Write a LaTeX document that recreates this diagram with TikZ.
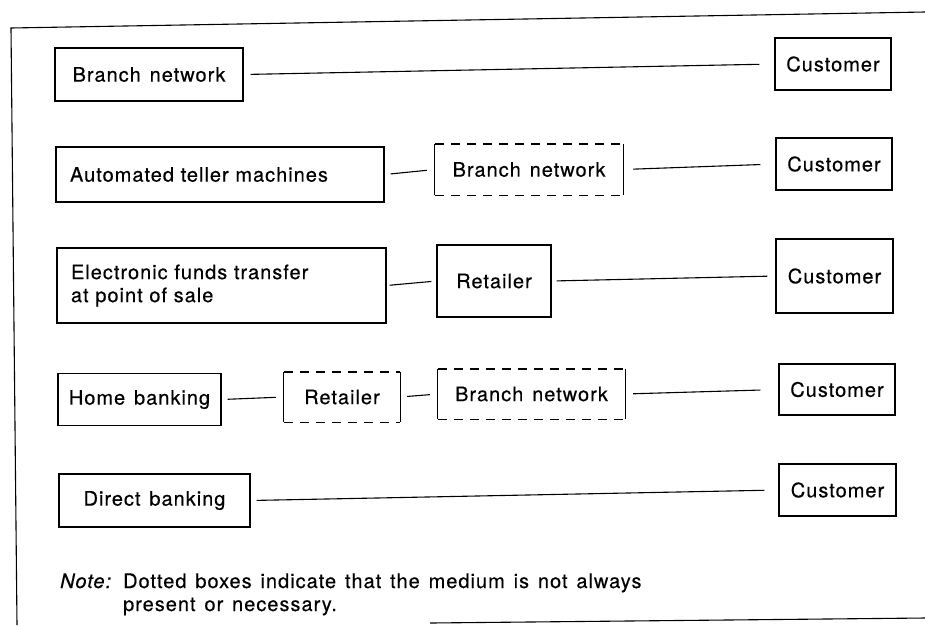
\documentclass[tikz,border=0pt]{standalone}
\usepackage{fontspec}
\setmainfont{TeX Gyre Heros}[LetterSpace=5,FakeBold=0.4,WordSpace=1.35]
\begin{document}
\begin{tikzpicture}[x=1pt,y=-1pt,
  txt/.style={font=\fontsize{20}{23}\selectfont},
  box/.style={txt, draw, line width=1.3pt, inner sep=0pt},
  dbox/.style={txt, inner sep=0pt},
  lbox/.style={box, inner xsep=14pt, align=left},
  dline/.style={line width=1.4pt, dash pattern=on 9pt off 7pt},
  sline/.style={line width=1.3pt},
  link/.style={line width=1.1pt},
  frame/.style={line width=1.1pt}]
\useasboundingbox (0,0) rectangle (925,625);
% frame
\coordinate (ftl) at (11,28);
\coordinate (ftr) at (925,12);
\coordinate (fbl) at (17,625);
\coordinate (fbs) at (430,623);
\coordinate (fbe) at (925,618);
\draw[frame] (fbl) -- (ftl) -- (ftr);
\draw[frame] (fbs) -- (fbe);
% row 1
\node[box, minimum width=188pt, minimum height=53pt] (bn1) at (149,74.5) {Branch network};
\node[box, minimum width=116pt, minimum height=52pt] (cu1) at (833,64) {Customer};
% row 2
\node[lbox, minimum width=328pt, minimum height=55pt, text width=300pt] (atm) at (220,174.5) {Automated teller machines};
\node[dbox, minimum width=188pt, minimum height=51pt] (bn2) at (529,169.5) {Branch network};
\node[box, minimum width=116pt, minimum height=52pt] (cu2) at (834,164) {Customer};
% row 3
\node[lbox, minimum width=329pt, minimum height=75pt, text width=301pt] (eft) at (221.5,285.5) {Electronic funds transfer\\at point of sale};
\node[box, minimum width=114pt, minimum height=72pt] (ret3) at (494,281) {Retailer};
\node[box, minimum width=117pt, minimum height=74pt] (cu3) at (834.5,276) {Customer};
% row 4
\node[box, minimum width=163pt, minimum height=52pt] (hb) at (139.5,399.5) {Home banking};
\node[dbox, minimum width=116pt, minimum height=50pt] (ret4) at (342,397) {Retailer};
\node[dbox, minimum width=187pt, minimum height=50pt] (bn4) at (531.5,394) {Branch network};
\node[box, minimum width=116pt, minimum height=51pt] (cu4) at (837,389.5) {Customer};
% row 5
\node[box, minimum width=191pt, minimum height=53pt] (db) at (154.5,500.5) {Direct banking};
\node[box, minimum width=117pt, minimum height=52pt] (cu5) at (837.5,490) {Customer};
% dashed boxes: dashed top and bottom, solid sides
\foreach \n in {bn2,ret4,bn4}{
  \draw[dline] (\n.north west) -- (\n.north east);
  \draw[dline] (\n.south west) -- (\n.south east);
  \draw[sline] (\n.north west) -- (\n.south west);
  \draw[sline] (\n.north east) -- (\n.south east);
}
% connectors
\draw[link, shorten <=7pt, shorten >=15pt] (bn1.east) -- (cu1.west);
\draw[link, shorten <=6pt, shorten >=8pt] (atm.east) -- (bn2.west);
\draw[link, shorten <=10pt, shorten >=15pt] (bn2.east) -- (cu2.west);
\draw[link, shorten <=3pt, shorten >=5pt] (eft.east) -- (ret3.west);
\draw[link, shorten <=5pt, shorten >=8pt] (ret3.east) -- (cu3.west);
\draw[link, shorten <=6pt, shorten >=8pt] (hb.east) -- (ret4.west);
\draw[link, shorten <=7pt, shorten >=8pt] (ret4.east) -- (bn4.west);
\draw[link, shorten <=8pt, shorten >=18pt] (bn4.east) -- (cu4.west);
\draw[link, shorten <=6pt, shorten >=14pt] (db.east) -- (cu5.west);
% note
\node[txt, anchor=base west, inner sep=0pt] (note) at (60,588) {\textit{Note:} \parbox[t]{600pt}{Dotted boxes indicate that the medium is not always\\present or necessary.}};
\end{tikzpicture}
\end{document}
